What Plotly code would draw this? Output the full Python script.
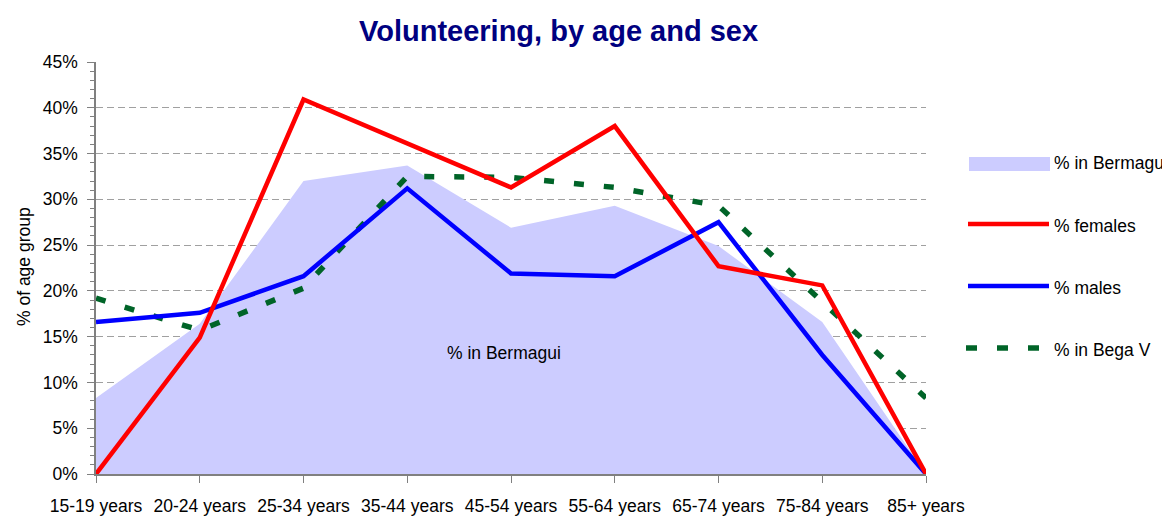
import plotly.graph_objects as go

categories = ["15-19 years", "20-24 years", "25-34 years", "35-44 years", "45-54 years",
              "55-64 years", "65-74 years", "75-84 years", "85+ years"]
pct_bermagui = [8.3, 16.4, 32.0, 33.7, 26.9, 29.3, 24.9, 16.6, 0.0]
pct_females = [0.0, 14.9, 40.9, 36.1, 31.3, 38.0, 22.7, 20.6, 0.0]
pct_males = [16.6, 17.6, 21.6, 31.2, 21.9, 21.6, 27.5, 13.0, 0.0]
pct_bega_v = [19.2, 15.7, 20.3, 32.5, 32.4, 31.3, 29.3, 18.8, 8.3]
y_ticks = [0, 5, 10, 15, 20, 25, 30, 35, 40, 45]

FONT = "Liberation Sans, Arial, sans-serif"
FS = 17.5
x_idx = list(range(len(categories)))

# page offset from default body margin
O = 8
# plot area in page pixels
PX0, PX1, PY0, PY1 = 96, 926, 62, 474
W, H = 1170 - O, 516 - O
L, R, T, B = PX0 - O, W - (PX1 - O), PY0 - O, H - (PY1 - O)
PW, PH = PX1 - PX0, PY1 - PY0


def px(x):
    return (x - PX0) / PW


def py(y):
    return (PY1 - y) / PH


fig = go.Figure()
fig.add_trace(go.Scatter(x=x_idx, y=pct_bermagui, mode="lines", fill="tozeroy",
                         fillcolor="#CCCCFF", line=dict(width=0, color="#CCCCFF"),
                         name="% in Bermagui", hoverinfo="y"))
fig.add_trace(go.Scatter(x=x_idx, y=pct_bega_v, mode="lines", name="% in Bega V",
                         line=dict(color="#006428", width=5.5, dash="10px,20px")))
fig.add_trace(go.Scatter(x=x_idx, y=pct_males, mode="lines", name="% males",
                         line=dict(color="#0000FF", width=4.5)))
fig.add_trace(go.Scatter(x=x_idx, y=pct_females, mode="lines", name="% females",
                         line=dict(color="#FF0000", width=4.5)))

shapes = []
annotations = []
# manual legend
shapes.append(dict(type="rect", xref="paper", yref="paper", x0=px(969), x1=px(1050),
                   y0=py(171), y1=py(157), fillcolor="#CCCCFF", line=dict(width=0)))
shapes.append(dict(type="line", xref="paper", yref="paper", x0=px(968), x1=px(1049),
                   y0=py(224), y1=py(224), line=dict(color="#FF0000", width=4.5)))
shapes.append(dict(type="line", xref="paper", yref="paper", x0=px(968), x1=px(1049),
                   y0=py(286), y1=py(286), line=dict(color="#0000FF", width=4.5)))
for x0 in (966, 997, 1028):
    shapes.append(dict(type="line", xref="paper", yref="paper", x0=px(x0), x1=px(x0 + 11),
                       y0=py(348), y1=py(348), line=dict(color="#006428", width=5.5)))
for label, yy in (("% in Bermagui", 163), ("% females", 226), ("% males", 288), ("% in Bega V", 350)):
    annotations.append(dict(text=label, xref="paper", yref="paper", x=px(1052), y=py(yy),
                            xanchor="left", yanchor="middle", showarrow=False,
                            font=dict(family=FONT, size=FS, color="#000000")))

annotations.append(dict(text="% in Bermagui", x=3.93, y=13.2, xref="x", yref="y",
                        showarrow=False, font=dict(family=FONT, size=FS, color="#000000")))
annotations.append(dict(text="% of age group", xref="paper", yref="paper", x=px(24), y=py(267),
                        textangle=-90, showarrow=False, xanchor="center", yanchor="middle",
                        font=dict(family=FONT, size=FS, color="#000000")))
annotations.append(dict(text="<b>Volunteering, by age and sex</b>", xref="paper", yref="paper",
                        x=px(558), y=py(31), xanchor="center", yanchor="middle", showarrow=False,
                        font=dict(family=FONT, size=29, color="#000080")))

fig.update_layout(
    width=W, height=H,
    margin=dict(l=L, r=R, t=T, b=B, autoexpand=False),
    plot_bgcolor="white", paper_bgcolor="white",
    showlegend=False,
    font=dict(family=FONT, size=FS, color="#000000"),
    shapes=shapes, annotations=annotations,
    xaxis=dict(range=[0, 8], tickmode="array", tickvals=x_idx, ticktext=categories,
               showgrid=False, zeroline=False, showline=True, linecolor="#808080", linewidth=1.5,
               ticks="outside", ticklen=7, tickcolor="#808080", tickwidth=1.2,
               ticklabelstandoff=8,
               tickfont=dict(family=FONT, size=FS, color="#000000"), fixedrange=True),
    yaxis=dict(range=[0, 45], tickmode="array", tickvals=y_ticks,
               ticktext=[f"{v}%" for v in y_ticks],
               showgrid=True, gridcolor="#A0A0A0", gridwidth=1, griddash="7px,4px",
               zeroline=False, showline=True, linecolor="#808080", linewidth=1.5,
               ticks="outside", ticklen=7, tickcolor="#808080", tickwidth=1.2,
               ticklabelstandoff=6,
               minor=dict(dtick=1, ticks="outside", ticklen=4, tickcolor="#808080",
                          tickwidth=1, showgrid=False),
               tickfont=dict(family=FONT, size=FS, color="#000000"), fixedrange=True),
)

fig.write_html("out.html")
